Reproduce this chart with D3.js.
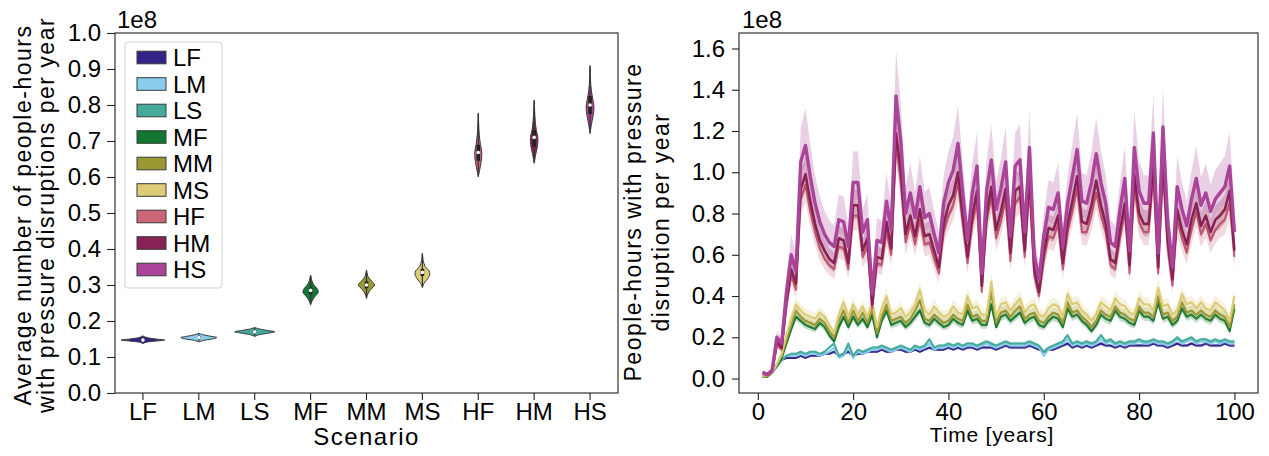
<!DOCTYPE html>
<html><head><meta charset="utf-8">
<script src="https://cdn.jsdelivr.net/npm/d3@7"></script>
<style>body{margin:0;background:#fff}svg{display:block;font-family:"Liberation Sans",Arial,sans-serif}</style>
</head><body><svg id="c" width="1269" height="456"></svg>
<script>
// ---------- DATA ----------
const categories = ["LF","LM","LS","MF","MM","MS","HF","HM","HS"];
const colors = ["#332288","#88CCEE","#44AA99","#117733","#999933","#DDCC77","#CC6677","#882255","#AA4499"];
const violinTicks = [0.0,0.1,0.2,0.3,0.4,0.5,0.6,0.7,0.8,0.9,1.0];
const timeTicks = [0,20,40,60,80,100];
const seriesTicks = [0.0,0.2,0.4,0.6,0.8,1.0,1.2,1.4,1.6];

// violin density profiles [value (1e8), density], one per scenario
const violinProfiles = [
  [[0.137,0],[0.141,0.15],[0.144,0.55],[0.147,1.0],[0.150,0.6],[0.153,0.25],[0.156,0.08],[0.159,0]],
  [[0.142,0],[0.146,0.2],[0.150,0.6],[0.154,0.83],[0.158,0.5],[0.162,0.18],[0.166,0]],
  [[0.157,0],[0.162,0.2],[0.166,0.6],[0.170,0.92],[0.174,0.55],[0.178,0.2],[0.182,0]],
  [[0.244,0],[0.255,0.06],[0.268,0.2],[0.280,0.35],[0.290,0.3],[0.300,0.15],[0.312,0.06],[0.328,0]],
  [[0.262,0],[0.275,0.06],[0.288,0.2],[0.300,0.37],[0.310,0.25],[0.322,0.08],[0.342,0]],
  [[0.292,0],[0.305,0.08],[0.318,0.25],[0.330,0.34],[0.340,0.3],[0.352,0.12],[0.368,0.04],[0.389,0]],
  [[0.600,0],[0.625,0.08],[0.650,0.15],[0.670,0.16],[0.690,0.1],[0.715,0.05],[0.745,0.02],[0.778,0]],
  [[0.638,0],[0.665,0.08],[0.690,0.16],[0.710,0.17],[0.730,0.1],[0.755,0.05],[0.785,0.02],[0.814,0]],
  [[0.720,0],[0.745,0.06],[0.770,0.14],[0.795,0.18],[0.815,0.13],[0.840,0.06],[0.870,0.02],[0.910,0]]
];
const whiskerLow  = [0.139,0.144,0.159,0.248,0.266,0.297,0.605,0.642,0.725];
const boxQ1       = [0.145,0.151,0.167,0.275,0.291,0.325,0.645,0.685,0.775];
const boxMedian   = [0.147,0.154,0.170,0.285,0.300,0.335,0.668,0.710,0.800];
const boxQ3       = [0.150,0.158,0.174,0.293,0.310,0.345,0.690,0.730,0.825];
const whiskerHigh = [0.156,0.165,0.181,0.325,0.338,0.385,0.775,0.810,0.905];

const years = d3.range(1, 101);
const seriesLF = [0.01,0.01,0.03,0.06,0.09,0.10,0.10,0.10,0.11,0.10,0.11,0.11,0.11,0.12,0.12,0.13,0.11,0.12,0.13,0.11,
0.12,0.12,0.13,0.13,0.13,0.14,0.13,0.13,0.14,0.14,0.13,0.13,0.14,0.13,0.14,0.15,0.14,0.14,0.14,0.15,
0.14,0.15,0.14,0.15,0.15,0.14,0.15,0.15,0.15,0.14,0.15,0.16,0.15,0.15,0.15,0.15,0.16,0.15,0.14,0.13,
0.14,0.14,0.15,0.16,0.17,0.15,0.16,0.15,0.16,0.15,0.16,0.17,0.16,0.16,0.15,0.16,0.15,0.16,0.16,0.16,
0.16,0.16,0.17,0.16,0.16,0.15,0.16,0.17,0.16,0.16,0.17,0.16,0.16,0.17,0.16,0.16,0.16,0.17,0.16,0.16];
const seriesLM = [0.01,0.01,0.03,0.06,0.09,0.11,0.11,0.11,0.12,0.11,0.12,0.12,0.11,0.12,0.13,0.15,0.10,0.11,0.15,0.10,
0.13,0.12,0.13,0.14,0.14,0.15,0.14,0.13,0.14,0.15,0.14,0.13,0.15,0.14,0.15,0.17,0.14,0.15,0.15,0.16,
0.15,0.16,0.15,0.16,0.16,0.15,0.16,0.17,0.16,0.15,0.16,0.17,0.16,0.16,0.16,0.16,0.17,0.16,0.15,0.11,
0.14,0.15,0.16,0.17,0.19,0.16,0.17,0.16,0.17,0.16,0.17,0.19,0.17,0.18,0.16,0.17,0.16,0.17,0.17,0.18,
0.17,0.17,0.18,0.17,0.17,0.16,0.17,0.19,0.17,0.18,0.19,0.17,0.18,0.18,0.17,0.18,0.17,0.18,0.17,0.17];
const seriesLS = [0.01,0.01,0.03,0.06,0.09,0.11,0.12,0.12,0.13,0.12,0.13,0.13,0.12,0.13,0.15,0.17,0.11,0.12,0.17,0.11,
0.14,0.13,0.14,0.15,0.15,0.16,0.15,0.14,0.15,0.16,0.15,0.14,0.16,0.15,0.16,0.19,0.15,0.16,0.16,0.17,
0.16,0.17,0.16,0.17,0.17,0.16,0.17,0.18,0.17,0.16,0.17,0.18,0.17,0.17,0.17,0.17,0.18,0.17,0.16,0.13,
0.15,0.16,0.17,0.18,0.21,0.17,0.18,0.17,0.18,0.17,0.18,0.21,0.18,0.19,0.17,0.18,0.17,0.18,0.18,0.19,
0.18,0.18,0.19,0.18,0.18,0.17,0.18,0.20,0.18,0.19,0.20,0.18,0.19,0.19,0.18,0.19,0.18,0.19,0.18,0.18];
const seriesMF = [0.01,0.01,0.03,0.06,0.10,0.17,0.24,0.30,0.28,0.26,0.25,0.24,0.27,0.25,0.21,0.18,0.25,0.30,0.25,0.30,
0.26,0.29,0.25,0.31,0.20,0.28,0.33,0.26,0.27,0.28,0.25,0.27,0.30,0.33,0.27,0.26,0.29,0.27,0.25,0.26,
0.29,0.27,0.26,0.33,0.28,0.29,0.26,0.26,0.36,0.25,0.30,0.31,0.28,0.30,0.32,0.27,0.29,0.30,0.26,0.25,
0.28,0.30,0.29,0.25,0.34,0.30,0.31,0.28,0.26,0.23,0.26,0.31,0.29,0.28,0.33,0.30,0.29,0.27,0.26,0.33,
0.30,0.30,0.28,0.37,0.29,0.30,0.26,0.28,0.34,0.30,0.31,0.29,0.31,0.29,0.28,0.31,0.29,0.28,0.23,0.34];
const seriesMM = [0.01,0.01,0.03,0.07,0.11,0.19,0.26,0.33,0.30,0.28,0.27,0.26,0.29,0.27,0.23,0.20,0.28,0.33,0.27,0.33,
0.28,0.32,0.27,0.34,0.22,0.30,0.36,0.28,0.29,0.30,0.27,0.29,0.33,0.38,0.29,0.28,0.31,0.29,0.27,0.28,
0.31,0.29,0.28,0.36,0.30,0.31,0.28,0.28,0.42,0.27,0.32,0.33,0.30,0.33,0.35,0.29,0.31,0.32,0.28,0.27,
0.30,0.32,0.31,0.27,0.37,0.32,0.33,0.30,0.28,0.25,0.28,0.33,0.31,0.30,0.35,0.32,0.31,0.29,0.28,0.35,
0.32,0.32,0.30,0.40,0.31,0.32,0.28,0.30,0.37,0.32,0.33,0.31,0.33,0.31,0.30,0.33,0.31,0.30,0.25,0.36];
const seriesMS = [0.01,0.02,0.03,0.07,0.12,0.21,0.29,0.36,0.33,0.31,0.30,0.29,0.32,0.30,0.26,0.22,0.31,0.37,0.30,0.36,
0.31,0.35,0.30,0.37,0.25,0.34,0.40,0.31,0.32,0.34,0.30,0.32,0.36,0.43,0.33,0.31,0.35,0.32,0.30,0.31,
0.35,0.32,0.31,0.40,0.34,0.35,0.31,0.31,0.47,0.30,0.36,0.37,0.33,0.36,0.39,0.32,0.35,0.36,0.31,0.30,
0.34,0.36,0.35,0.30,0.41,0.36,0.37,0.33,0.31,0.28,0.31,0.37,0.35,0.33,0.39,0.36,0.35,0.32,0.31,0.39,
0.36,0.36,0.33,0.44,0.35,0.36,0.31,0.33,0.41,0.36,0.37,0.34,0.37,0.34,0.33,0.37,0.35,0.33,0.28,0.40];
const seriesHF = [0.02,0.02,0.03,0.16,0.14,0.35,0.50,0.43,0.87,0.94,0.81,0.71,0.63,0.58,0.55,0.53,0.64,0.63,0.53,0.79,
0.79,0.59,0.64,0.34,0.56,0.55,0.71,0.60,1.14,0.95,0.66,0.75,0.65,0.77,0.65,0.66,0.58,0.51,0.71,0.79,
0.84,0.95,0.75,0.56,0.75,0.85,0.42,0.76,0.88,0.68,0.76,0.87,0.57,0.85,0.88,0.59,0.93,0.50,0.40,0.57,
0.69,0.68,0.75,0.53,0.71,0.81,0.92,0.71,0.71,0.79,0.90,0.79,0.71,0.55,0.53,0.68,0.81,0.51,0.93,0.76,
0.71,0.71,0.99,0.51,1.01,0.63,0.45,0.77,0.68,0.61,0.72,0.81,0.70,0.75,0.67,0.72,0.75,0.77,0.85,0.59];
const seriesHM = [0.03,0.02,0.04,0.18,0.15,0.37,0.53,0.46,0.92,0.99,0.86,0.75,0.67,0.62,0.58,0.56,0.68,0.67,0.56,0.84,
0.84,0.62,0.68,0.36,0.59,0.58,0.76,0.63,1.19,1.01,0.70,0.79,0.69,0.82,0.69,0.70,0.62,0.54,0.75,0.84,
0.89,1.00,0.79,0.59,0.79,0.91,0.45,0.80,0.93,0.72,0.81,0.92,0.61,0.91,0.93,0.62,0.99,0.53,0.42,0.61,
0.73,0.72,0.79,0.56,0.75,0.86,0.98,0.76,0.75,0.84,0.96,0.84,0.75,0.58,0.56,0.72,0.85,0.55,0.99,0.80,
0.75,0.75,1.05,0.54,1.07,0.67,0.48,0.82,0.72,0.65,0.77,0.85,0.74,0.79,0.71,0.77,0.79,0.82,0.91,0.62];
const seriesHS = [0.03,0.02,0.04,0.20,0.17,0.42,0.60,0.52,1.05,1.13,0.98,0.85,0.76,0.70,0.66,0.64,0.77,0.76,0.64,0.95,
0.95,0.71,0.77,0.41,0.67,0.66,0.86,0.72,1.37,1.15,0.80,0.90,0.78,0.93,0.78,0.80,0.70,0.61,0.85,0.95,
1.01,1.14,0.90,0.67,0.90,1.03,0.51,0.91,1.06,0.82,0.92,1.05,0.69,1.03,1.06,0.71,1.12,0.60,0.48,0.69,
0.83,0.82,0.90,0.64,0.85,0.98,1.11,0.86,0.85,0.95,1.09,0.95,0.85,0.66,0.64,0.82,0.97,0.62,1.12,0.91,
0.85,0.85,1.19,0.61,1.22,0.76,0.54,0.93,0.82,0.74,0.87,0.97,0.84,0.90,0.81,0.87,0.90,0.93,1.03,0.71];
// relative half-widths of the confidence bands (below / above the mean)
const ciBelow = [0.05,0.06,0.05,0.07,0.08,0.08,0.09,0.08,0.09];
const ciAbove = [0.05,0.06,0.05,0.07,0.08,0.09,0.09,0.09,0.16];

// ---------- DRAW ----------
const allSeries = [seriesLF,seriesLM,seriesLS,seriesMF,seriesMM,seriesMS,seriesHF,seriesHM,seriesHS];
const svg = d3.select("#c");
const FS = 24;
const fmt = d3.format(".1f");

function styleAxis(g){
  g.select(".domain").remove();
  g.selectAll(".tick line").attr("stroke","#222").attr("stroke-width",1.1);
  g.selectAll(".tick text").attr("fill","#000").style("font-size",FS+"px");
}

// Left panel
const L = {l:115, r:618, t:33, b:393};
const xL = d3.scaleBand().domain(categories).range([L.l, L.r]).padding(0);
const yL = d3.scaleLinear().domain([0, 1.0]).range([L.b, L.t]);
const allDens = violinProfiles.flat().map(d => d[1]);
const wScale = d3.scaleLinear().domain([0, d3.max(allDens)]).range([0, xL.bandwidth()*0.39]);

const gL = svg.append("g");
gL.append("g").attr("transform",`translate(${L.l},0)`)
  .call(d3.axisLeft(yL).tickValues(violinTicks).tickFormat(fmt).tickSize(8).tickPadding(6)).call(styleAxis);
gL.append("g").attr("transform",`translate(0,${L.b})`)
  .call(d3.axisBottom(xL).tickSize(7).tickPadding(3)).call(styleAxis);

categories.forEach((c, i) => {
  const cx = xL(c) + xL.bandwidth()/2;
  const area = d3.area().curve(d3.curveCatmullRom)
    .y(d => yL(d[0])).x0(d => cx - wScale(d[1])).x1(d => cx + wScale(d[1]));
  gL.append("path").attr("d", area(violinProfiles[i]))
    .attr("fill", colors[i]).attr("stroke", "#3a3a3a").attr("stroke-width", 1);
  gL.append("line").attr("x1",cx).attr("x2",cx).attr("y1",yL(whiskerLow[i])).attr("y2",yL(whiskerHigh[i]))
    .attr("stroke","#333").attr("stroke-width",1.2);
  gL.append("line").attr("x1",cx).attr("x2",cx).attr("y1",yL(boxQ1[i])).attr("y2",yL(boxQ3[i]))
    .attr("stroke","#222").attr("stroke-width",3.6);
  gL.append("circle").attr("cx",cx).attr("cy",yL(boxMedian[i])).attr("r",1.8).attr("fill","#fff");
});
gL.append("rect").attr("x",L.l).attr("y",L.t).attr("width",L.r-L.l).attr("height",L.b-L.t)
  .attr("fill","none").attr("stroke","#333").attr("stroke-width",1.2);

// legend
const lg = gL.append("g");
lg.append("rect").attr("x",125).attr("y",42).attr("width",97).attr("height",246).attr("rx",3)
  .attr("fill","#fff").attr("fill-opacity",0.8).attr("stroke","#d0d0d0").attr("stroke-width",1);
categories.forEach((c, i) => {
  const cy = 57.5 + i*26.5;
  lg.append("rect").attr("x",137).attr("y",cy-6.3).attr("width",29).attr("height",12.6)
    .attr("fill",colors[i]).attr("stroke","#3a3a3a").attr("stroke-width",1);
  lg.append("text").attr("x",173).attr("y",cy+8.5).style("font-size",FS+"px").text(c);
});

gL.append("text").attr("x",117).attr("y",28).style("font-size",FS+"px").text("1e8");
gL.append("text").attr("x",(L.l+L.r)/2).attr("y",445).attr("text-anchor","middle")
  .style("font-size","24px").style("letter-spacing","1.5px").text("Scenario");
const ylL = gL.append("text").attr("transform",`translate(0,${(L.t+L.b)/2+2}) rotate(-90)`)
  .attr("text-anchor","middle").style("font-size","23px").style("letter-spacing","1.5px");
ylL.append("tspan").attr("x",0).attr("y",31).text("Average number of people-hours");
ylL.append("tspan").attr("x",0).attr("y",54).text("with pressure disruptions per year");

// Right panel
const R = {l:739, r:1258, t:33, b:393};
const xR = d3.scaleLinear().domain([-3.95, 104.95]).range([R.l, R.r]);
const yR = d3.scaleLinear().domain([-0.07, 1.675]).range([R.b, R.t]);
const gR = svg.append("g");
gR.append("g").attr("transform",`translate(${R.l},0)`)
  .call(d3.axisLeft(yR).tickValues(seriesTicks).tickFormat(fmt).tickSize(7).tickPadding(7)).call(styleAxis);
gR.append("g").attr("transform",`translate(0,${R.b})`)
  .call(d3.axisBottom(xR).tickValues(timeTicks).tickFormat(d3.format("d")).tickSize(7).tickPadding(3)).call(styleAxis);

const lineWidths = [2,2,2,2.2,2.2,2.2,2.2,2.6,3.4];
allSeries.forEach((s, i) => {
  const band = d3.area().x((d, j) => xR(years[j]))
    .y0(d => yR(d*(1-ciBelow[i]))).y1(d => yR(d*(1+ciAbove[i])));
  gR.append("path").attr("d", band(s)).attr("fill", colors[i]).attr("fill-opacity", 0.25);
  const line = d3.line().x((d, j) => xR(years[j])).y(d => yR(d));
  gR.append("path").attr("d", line(s)).attr("fill","none").attr("stroke", colors[i])
    .attr("stroke-width", lineWidths[i]).attr("stroke-linejoin","round");
});
gR.append("rect").attr("x",R.l).attr("y",R.t).attr("width",R.r-R.l).attr("height",R.b-R.t)
  .attr("fill","none").attr("stroke","#333").attr("stroke-width",1.2);

gR.append("text").attr("x",742).attr("y",28).style("font-size",FS+"px").text("1e8");
gR.append("text").attr("x",992).attr("y",442).attr("text-anchor","middle")
  .style("font-size","21px").style("letter-spacing","0.8px").text("Time [years]");
const ylR = gR.append("text").attr("transform",`translate(0,${(R.t+R.b)/2+9}) rotate(-90)`)
  .attr("text-anchor","middle").style("font-size","23px").style("letter-spacing","1.5px");
ylR.append("tspan").attr("x",0).attr("y",641).text("People-hours with pressure");
ylR.append("tspan").attr("x",0).attr("y",669).text("disruption per year");
</script></body></html>
